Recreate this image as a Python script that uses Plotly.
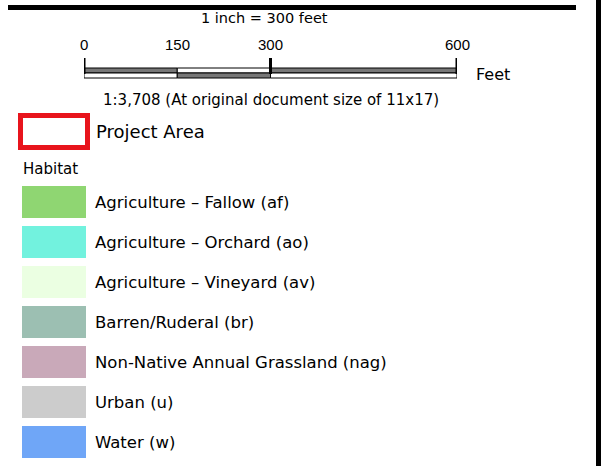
import plotly.graph_objects as go

# ---- data ----
scale_title = "1 inch = 300 feet"
scale_ticks = [0, 150, 300, 600]
scale_tick_labels = ["0", "150", "300", "600"]
scale_unit = "Feet"
scale_note = "1:3,708 (At original document size of 11x17)"
project_label = "Project Area"
habitat_title = "Habitat"
habitat_labels = [
    "Agriculture \u2013 Fallow (af)",
    "Agriculture \u2013 Orchard (ao)",
    "Agriculture \u2013 Vineyard (av)",
    "Barren/Ruderal (br)",
    "Non-Native Annual Grassland (nag)",
    "Urban (u)",
    "Water (w)",
]
habitat_colors = ["#8fd672", "#72f2de", "#ebffe2", "#9cbfb2", "#c9a9b9", "#cccccc", "#6fa6f7"]

W, H = 605, 466
FONT = "DejaVu Sans, Verdana, sans-serif"
FONT2 = "Liberation Sans, Arial, sans-serif"

fig = go.Figure()
shapes = []
ann = []

# frame lines
shapes.append(dict(type="line", xref="x", yref="y", x0=8, x1=576, y0=7.5, y1=7.5,
                   line=dict(color="black", width=5)))
shapes.append(dict(type="line", xref="x", yref="y", x0=598.5, x1=598.5, y0=0, y1=H,
                   line=dict(color="black", width=5)))

# scale bar (x2 axis in feet)
ann.append(dict(x=290, y=18, xref="x2", yref="y", text=scale_title, showarrow=False,
                font=dict(family=FONT, size=14.5, color="black"), xanchor="center", yanchor="middle"))
for t, lab in zip(scale_ticks, scale_tick_labels):
    ann.append(dict(x=t, y=44, xref="x2", yref="y", text=lab, showarrow=False,
                    font=dict(family=FONT2, size=15, color="black"), xanchor="center", yanchor="middle"))
dark = "#777777"
for i in range(len(scale_ticks) - 1):
    a, b = scale_ticks[i], scale_ticks[i + 1]
    top = dark if i % 2 == 0 else "white"
    bot = "white" if i % 2 == 0 else dark
    shapes.append(dict(type="rect", xref="x2", yref="y", x0=a, x1=b, y0=68, y1=73,
                       fillcolor=top, line=dict(color="black", width=1)))
    shapes.append(dict(type="rect", xref="x2", yref="y", x0=a, x1=b, y0=73, y1=78,
                       fillcolor=bot, line=dict(color="black", width=1)))
for t in [scale_ticks[0], scale_ticks[2], scale_ticks[3]]:
    shapes.append(dict(type="line", xref="x2", yref="y", x0=t, x1=t, y0=58, y1=74,
                       line=dict(color="black", width=3)))
ann.append(dict(x=474, y=74, xref="x", yref="y", text=scale_unit, showarrow=False,
                font=dict(family=FONT, size=16, color="black"), xanchor="left", yanchor="middle"))
ann.append(dict(x=300, y=100, xref="x2", yref="y", text=scale_note, showarrow=False,
                font=dict(family=FONT, size=15, color="black"), xanchor="center", yanchor="middle"))

# project area
shapes.append(dict(type="rect", xref="x", yref="y", x0=20.5, x1=87.5, y0=115.5, y1=147.5,
                   fillcolor="white", line=dict(color="#e8141c", width=5)))
ann.append(dict(x=94, y=131, xref="x", yref="y", text=project_label, showarrow=False,
                font=dict(family=FONT, size=18, color="black"), xanchor="left", yanchor="middle"))
ann.append(dict(x=21, y=169, xref="x", yref="y", text=habitat_title, showarrow=False,
                font=dict(family=FONT, size=15, color="black"), xanchor="left", yanchor="middle"))

# habitat swatches
for i, (lab, col) in enumerate(zip(habitat_labels, habitat_colors)):
    y0 = 186 + 40 * i
    shapes.append(dict(type="rect", xref="x", yref="y", x0=22, x1=86, y0=y0, y1=y0 + 32,
                       fillcolor=col, line=dict(width=0)))
    ann.append(dict(x=93, y=y0 + 16, xref="x", yref="y", text=lab, showarrow=False,
                    font=dict(family=FONT, size=16.5, color="black"), xanchor="left", yanchor="middle"))

fig.update_layout(
    width=W, height=H, margin=dict(l=0, r=0, t=0, b=0),
    paper_bgcolor="white", plot_bgcolor="rgba(0,0,0,0)", showlegend=False,
    xaxis=dict(range=[0, W], visible=False, domain=[0, 1]),
    xaxis2=dict(range=[0, 600], visible=False, domain=[84 / W, 457 / W], anchor="y"),
    yaxis=dict(range=[H, 0], visible=False, domain=[0, 1]),
    shapes=shapes, annotations=ann,
)
fig.write_html(
    "out.html",
    config={"displayModeBar": False, "staticPlot": True},
    post_script="document.body.style.margin='0';document.body.style.overflow='hidden';",
)
